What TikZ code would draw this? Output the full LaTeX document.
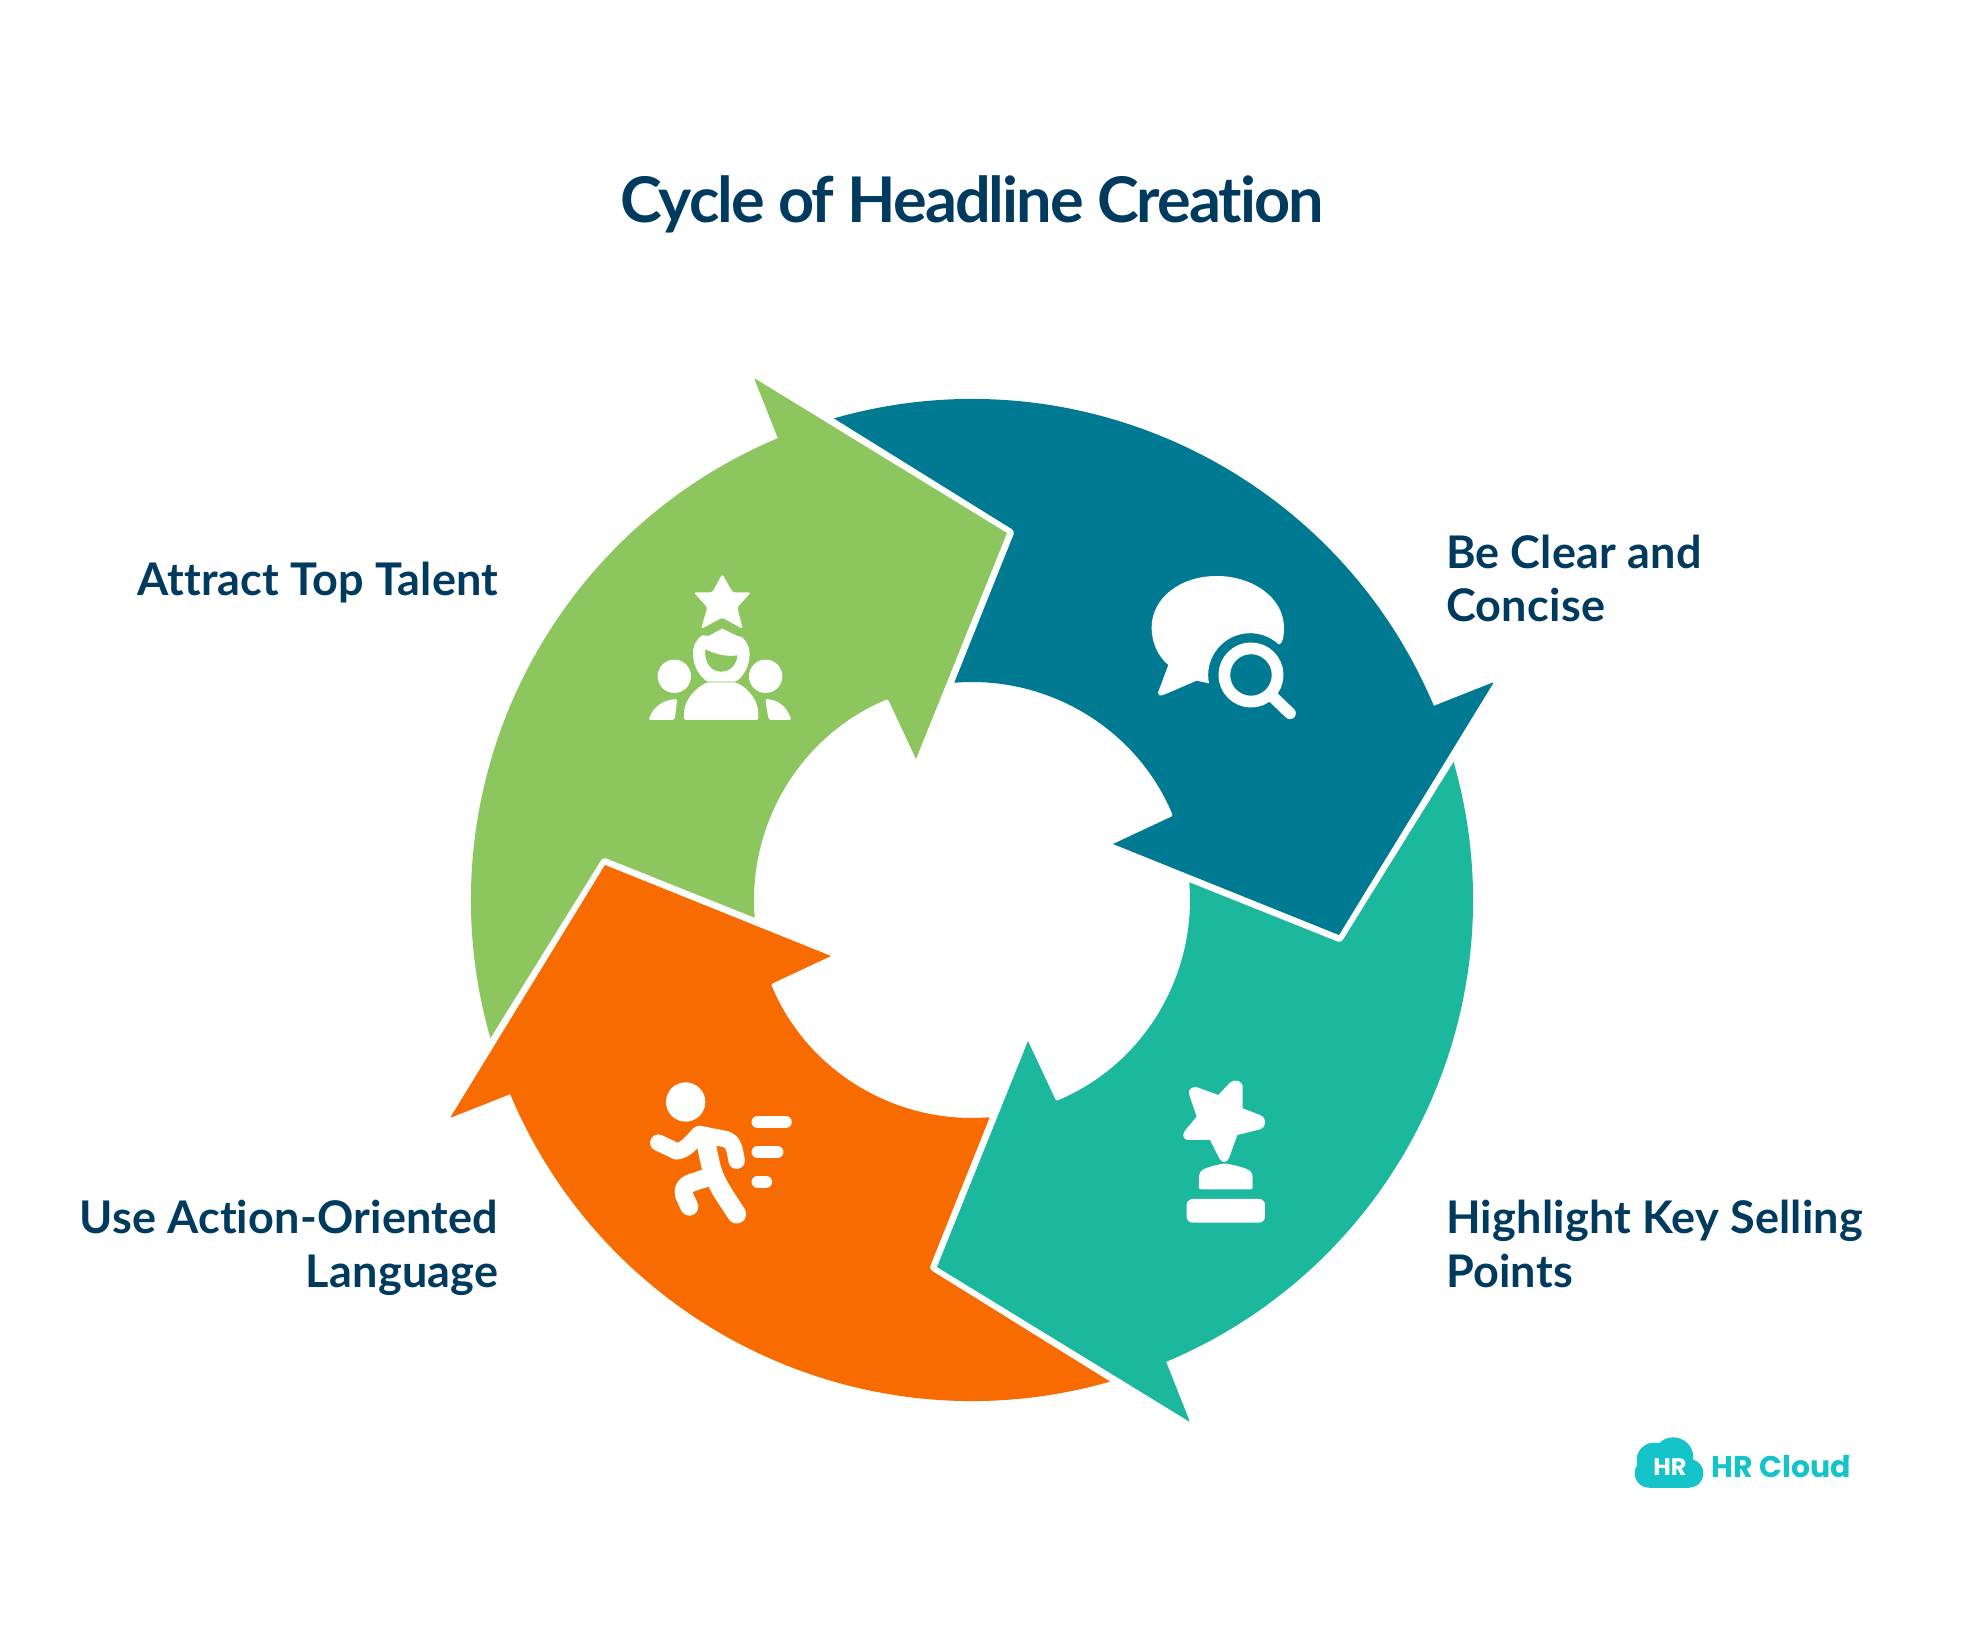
\documentclass[tikz,border=0pt]{standalone}
\usepackage{fontspec}
\setmainfont{Lato}
\newfontfamily\titlefont{Lato}[LetterSpace=-3.1,Ligatures=CommonOff]
\newfontfamily\labelfont{Lato}[LetterSpace=0.5,Ligatures=CommonOff]
\newfontfamily\logofont{Poppins}
\definecolor{leafgreen}{HTML}{8DC55F}
\definecolor{deepblue}{HTML}{007A92}
\definecolor{seateal}{HTML}{1CB89D}
\definecolor{runorange}{HTML}{F76B00}
\definecolor{inkblue}{HTML}{003B5F}
\definecolor{logoteal}{HTML}{14C4C8}
\newcommand{\cyclearrow}{(196:501) arc[start angle=196,end angle=112.8,radius=501] [rounded corners=2pt] -- (-218,522) [sharp corners] -- (35,367) -- (-56,141) [rounded corners=2pt] -- (112.7:218) [sharp corners] arc[start angle=112.7,end angle=184.66,radius=218] [rounded corners=3.5pt] -- (-369,43) [sharp corners] -- cycle}
\tikzset{
  steplabel/.style={font=\labelfont\fontsize{45}{53.6}\selectfont\bfseries,text=inkblue,inner sep=0pt},
  zoomcrop/.style 2 args={shift={(#1-972,900-#2)},x=0.3333pt,y=-0.3333pt},
  iconpen/.style={draw=white,line cap=round,line join=round}
}
\begin{document}
\begin{tikzpicture}[x=1pt,y=1pt]
    \useasboundingbox (-972,-744) rectangle (1008,900);
    \fill[white] (-972,-744) rectangle (1008,900);
    \fill[leafgreen] \cyclearrow;
    \fill[deepblue,rotate=-90] \cyclearrow;
    \fill[seateal,rotate=-180] \cyclearrow;
    \fill[runorange,rotate=-270] \cyclearrow;
    \node[inner sep=0pt,anchor=base,font=\titlefont\fontsize{63}{70}\selectfont\bfseries,text=inkblue] (title) at (0,677) {Cycle of Headline Creation};
    \node[steplabel,anchor=base west,align=left] (clear) at (474,278) {Be Clear and\\Concise};
    \node[steplabel,anchor=base west,align=left] (selling) at (474,-387) {Highlight Key Selling\\Points};
    \node[steplabel,anchor=base east,align=right] (action) at (-473.5,-387) {Use Action-Oriented\\Language};
    \node[steplabel,anchor=base east] (talent) at (-473.5,304) {Attract Top Talent};
    \begin{scope}[zoomcrop={1100}{540}]
    \fill[white] (552,262) .. controls (552,175) and (460,108) .. (350,108) .. controls (240,108) and (155,175) .. (155,262) .. controls (155,310) and (175,350) .. (205,375) -- (174,458) .. controls (172,466) and (180,468) .. (190,465) -- (290,422) -- (327,430) arc[start angle=168.8,end angle=313.1,radius=126] .. controls (548,312) and (552,290) .. (552,262) -- cycle;
    \draw[iconpen,line width=11.7pt] (453,405) circle[radius=80];
    \draw[iconpen,line width=11.7pt] (520,472) -- (570,520);
    \end{scope}
    \begin{scope}[zoomcrop={620}{550}]
    \fill[white,rounded corners=2.5pt] (307,72) -- (338,127) -- (393,127) -- (352,172) -- (368,237) -- (307,203) -- (243,237) -- (262,172) -- (221,127) -- (277,127) -- cycle;
    \fill[white] (219,310) .. controls (219,285) and (232,265) .. (247,256) -- (265,258) -- (307,236) -- (350,257) -- (367,262) .. controls (380,275) and (389,292) .. (389,312) .. controls (389,350) and (370,380) .. (347,395) -- (262,395) .. controls (240,380) and (219,350) .. (219,310) -- cycle;
    \fill[white,rounded corners=2pt] (192,510) -- (192,490) .. controls (195,450) and (225,415) .. (262,397) -- (347,397) .. controls (385,415) and (412,450) .. (415,490) -- (415,510) -- cycle;
    \fill[leafgreen] (256,298) .. controls (285,312) and (320,322) .. (352,316) .. controls (350,345) and (330,365) .. (303,365) .. controls (275,365) and (252,340) .. (256,298) -- cycle;
    \fill[white] (163,379) circle[radius=50];
    \fill[white] (437,379) circle[radius=50];
    \fill[white,rounded corners=2pt] (86,510) .. controls (100,470) and (130,450) .. (172,447) -- (164,510) -- cycle;
    \fill[white,rounded corners=2pt] (514,510) .. controls (500,470) and (475,450) .. (436,447) -- (446,510) -- cycle;
    \end{scope}
    \begin{scope}[zoomcrop={620}{1060}]
    \fill[white] (197,126) circle[radius=59];
    \draw[iconpen,line width=16.5pt] (115,248) -- (170,274) .. controls (200,270) and (215,245) .. (238,222) -- (320,238) .. controls (340,245) and (345,270) .. (350,302);
    \draw[iconpen,line width=19pt] (255,235) -- (272,315) .. controls (285,370) and (320,415) .. (350,462);
    \draw[iconpen,line width=18pt] (270,350) -- (215,368) .. controls (195,375) and (188,385) .. (192,405) -- (208,440);
    \draw[iconpen,line width=12.3pt] (413,186) -- (497,186);
    \draw[iconpen,line width=12.3pt] (413,276) -- (472,276);
    \draw[iconpen,line width=12.3pt] (413,365) -- (438,365);
    \end{scope}
    \begin{scope}[zoomcrop={1150}{1060}]
    \fill[white] (205,105) -- (240,68) .. controls (255,55) and (280,62) .. (278,85) -- (278,145) -- (330,165) .. controls (350,172) and (352,200) .. (330,208) -- (262,225) -- (238,292) .. controls (232,310) and (215,310) .. (208,295) -- (180,240) -- (115,240) .. controls (100,240) and (95,225) .. (105,212) -- (140,170) -- (118,105) .. controls (112,85) and (130,75) .. (150,85) -- cycle;
    \fill[white,rounded corners=2pt] (147,388) -- (147,350) .. controls (150,330) and (165,322) .. (225,310) .. controls (285,322) and (305,330) .. (308,350) -- (308,388) -- cycle;
    \fill[white,rounded corners=6pt] (110,488) -- (110,417) -- (345,417) -- (345,488) -- cycle;
    \end{scope}
    \begin{scope}[zoomcrop={1620}{1420}]
    \fill[logoteal] (160,112) circle[radius=60];
    \fill[logoteal] (102,120) circle[radius=52];
    \fill[logoteal] (87,160) circle[radius=43];
    \fill[logoteal] (207,160) circle[radius=43];
    \fill[logoteal] (87,150) rectangle (207,203);
    \node[inner sep=0pt,anchor=base,font=\logofont\fontsize{24}{28}\selectfont\bfseries,text=white] (cloudmark) at (150,165) {HR};
    \node[inner sep=0pt,anchor=base west,font=\logofont\fontsize{30}{34}\selectfont\bfseries,text=logoteal] (brand) at (274,172) {HR Cloud};
    \node[inner sep=0pt,font=\logofont\fontsize{7}{8}\selectfont,text=logoteal] (regmark) at (686,114) {®};
    \end{scope}
\end{tikzpicture}
\end{document}
